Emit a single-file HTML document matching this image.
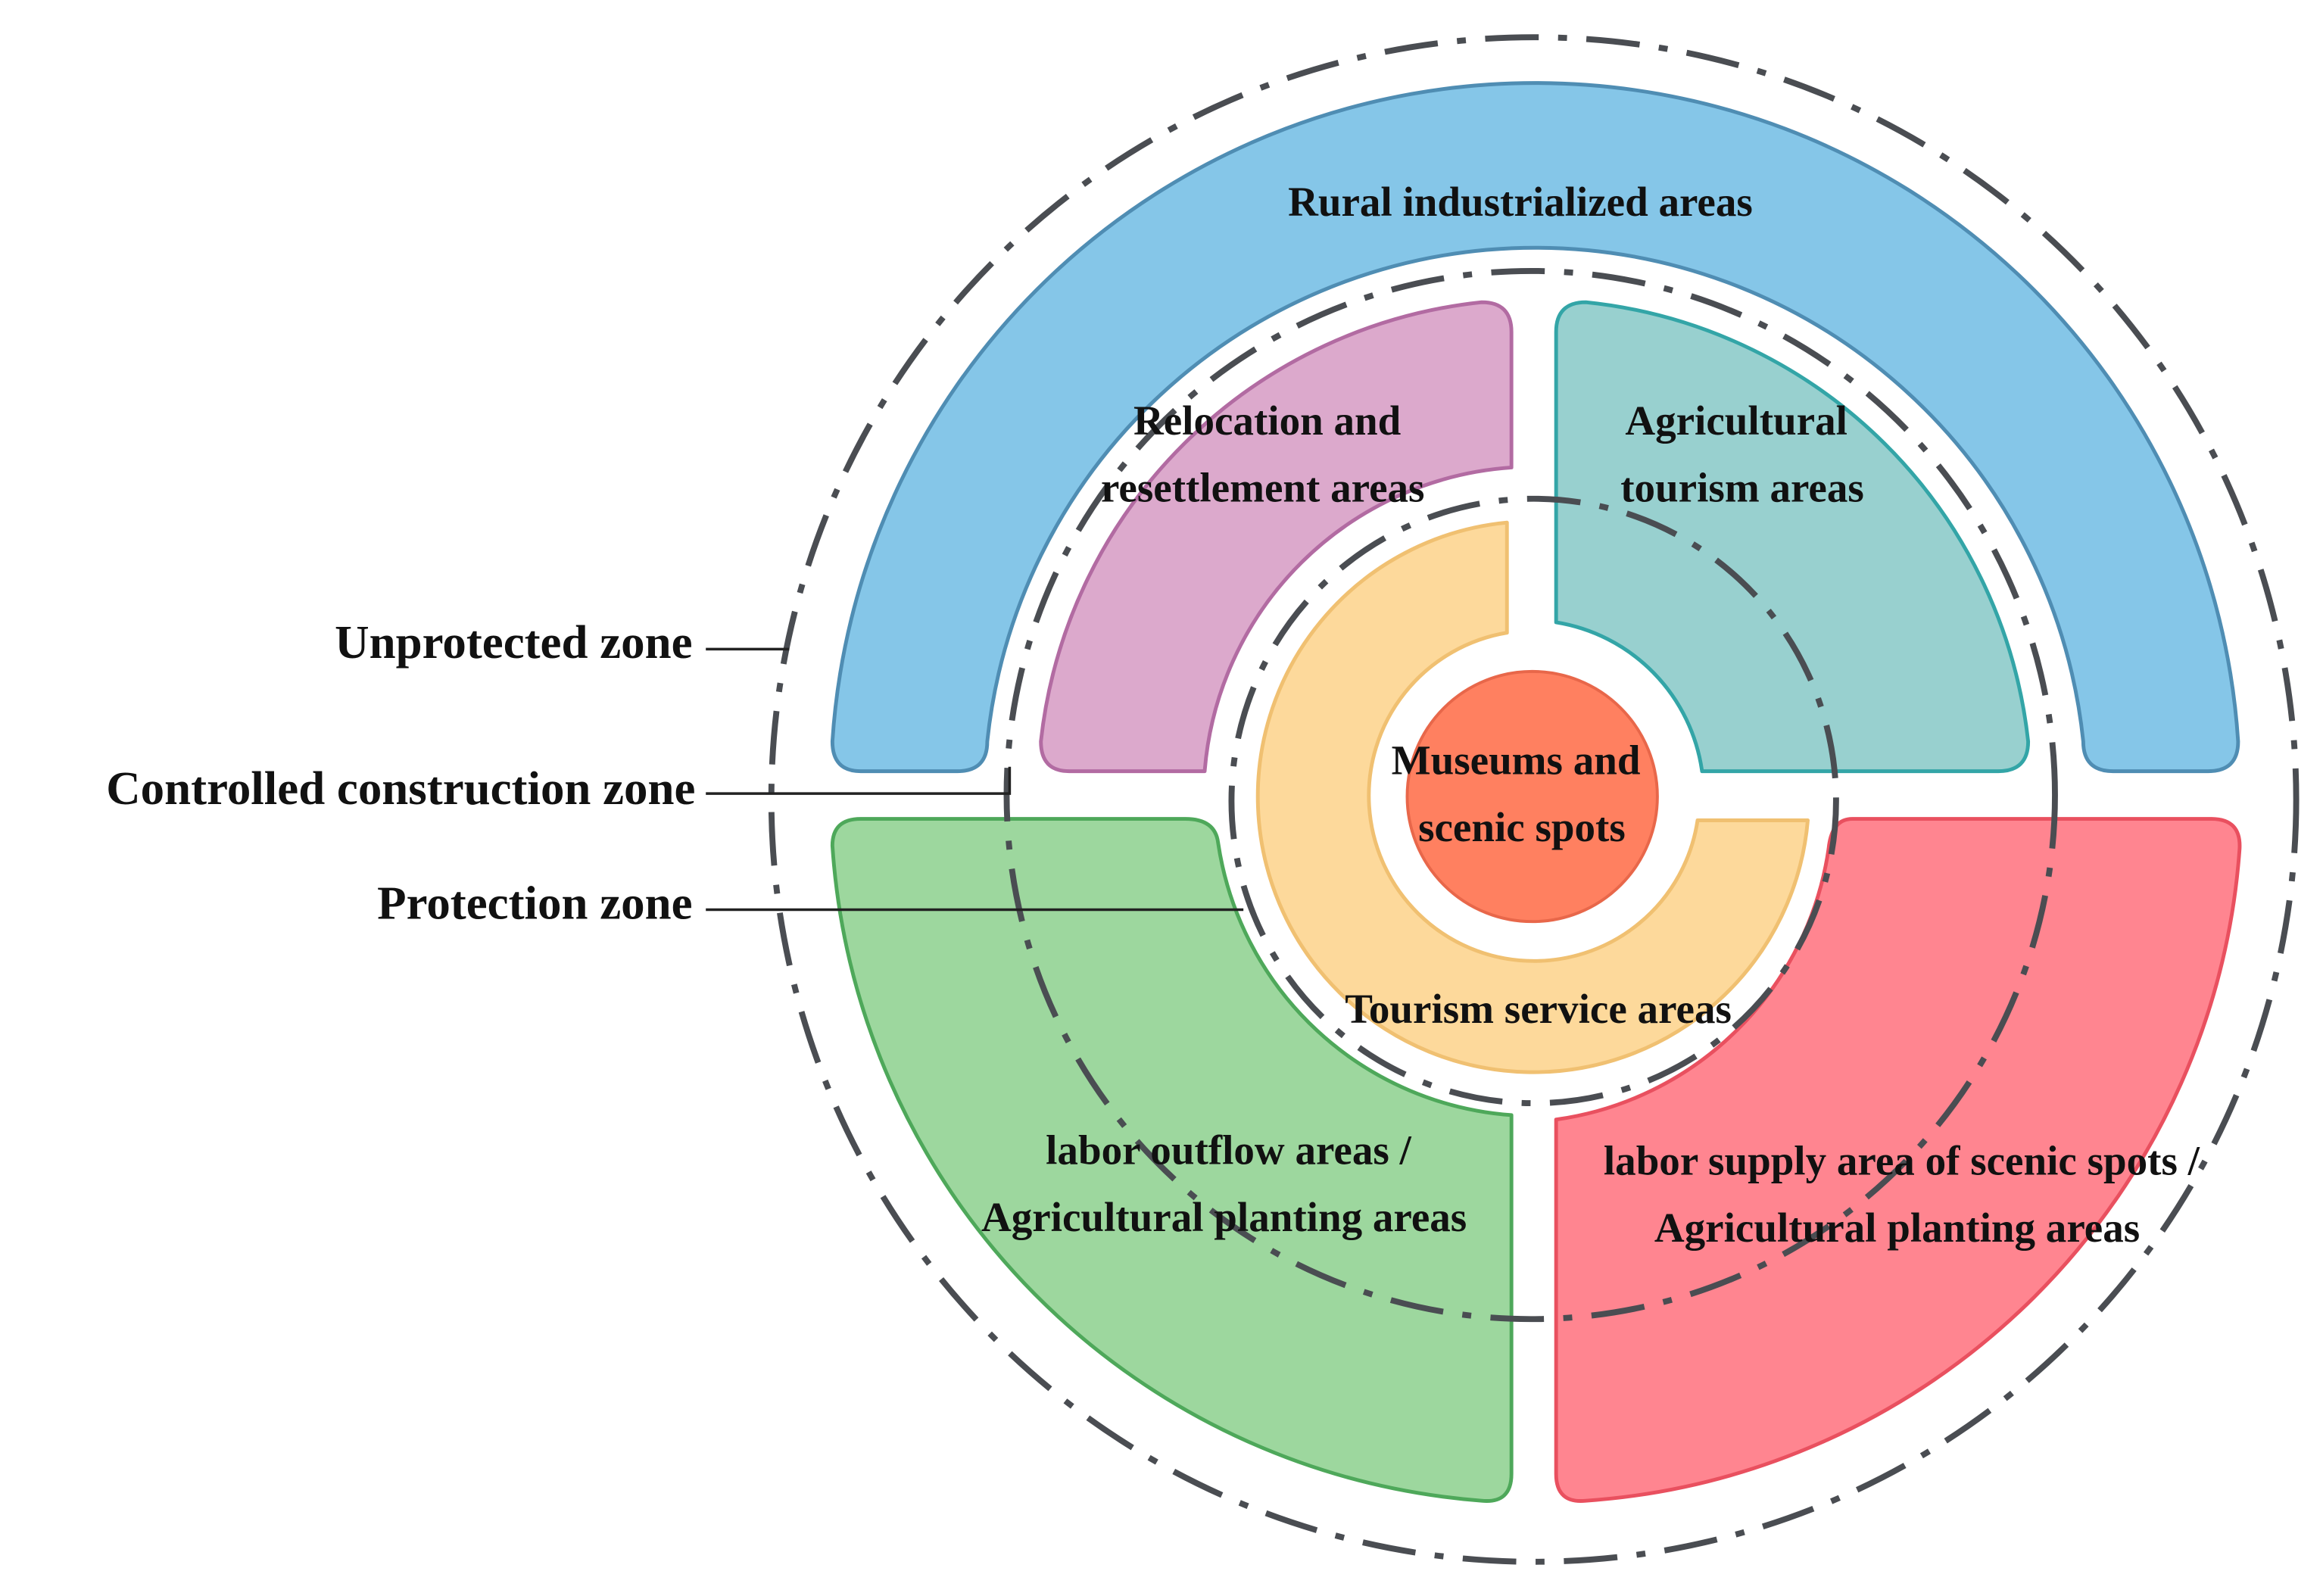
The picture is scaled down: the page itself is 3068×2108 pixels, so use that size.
<!DOCTYPE html>
<html><head><meta charset="utf-8"><style>
html,body{margin:0;padding:0;background:#fff;}
svg{display:block;}
text{font-family:"Liberation Serif",serif;font-weight:bold;fill:#111;}
</style></head><body>
<svg width="3068" height="2108" viewBox="0 0 1560 1072" preserveAspectRatio="none" xmlns="http://www.w3.org/2000/svg">
<!-- blue -->
<path d="M578,518 Q559,518 559,498 A473 473 0 0 1 1503,498 Q1503,518 1483,518 L1419,518 Q1399,518 1399,498 A370 370 0 0 0 663,498 Q663,518 643,518 Z" fill="#85C6E8" stroke="#4F8DB3" stroke-width="2.5" stroke-linejoin="round"/>
<!-- pink -->
<path d="M718,518 Q699,518 699,498 A333 333 0 0 1 995,203 Q1015,203 1015,223 L1015,314 A222 222 0 0 0 809,518 Z" fill="#DCA9CC" stroke="#B26BA2" stroke-width="2.5" stroke-linejoin="round"/>
<!-- teal -->
<path d="M1045,223 Q1045,203 1065,203 A333 333 0 0 1 1362,498 Q1362,518 1342,518 L1143,518 A118 118 0 0 0 1045,418 Z" fill="#98D0CF" stroke="#33A5A7" stroke-width="2.5" stroke-linejoin="round"/>
<!-- green -->
<path d="M578,550 L796,550 Q816,550 818,566 A215 215 0 0 0 1015,749 L1015,990 Q1015,1010 995,1008 A473 473 0 0 1 559,568 Q559,550 578,550 Z" fill="#9DD79E" stroke="#4EA85A" stroke-width="2.5" stroke-linejoin="round"/>
<!-- red -->
<path d="M1244,550 L1485,550 Q1505,550 1504,570 A473 473 0 0 1 1065,1008 Q1045,1010 1045,990 L1045,752 A215 215 0 0 0 1228,570 Q1230,550 1244,550 Z" fill="#FF8590" stroke="#E9505F" stroke-width="2.5" stroke-linejoin="round"/>
<!-- orange ring -->
<path d="M1012,351 A185 185 0 1 0 1214,551 L1140,551 A111 111 0 1 1 1012,425 Z" fill="#FDD99B" stroke="#F0C071" stroke-width="2.5" stroke-linejoin="round"/>
<!-- red circle -->
<circle cx="1029" cy="535" r="84" fill="#FF8060" stroke="#E8674A" stroke-width="2"/>
<!-- dashed circles -->
<g fill="none" stroke="#4A4D52" stroke-width="4" stroke-dasharray="36 13 6 13">
<circle cx="1030" cy="537" r="512"/>
<circle cx="1028" cy="534" r="352"/>
<circle cx="1030" cy="538" r="203"/>
</g>
<!-- leader lines -->
<g stroke="#222" stroke-width="1.8" fill="none">
<line x1="474" y1="436" x2="530" y2="436"/>
<polyline points="474,533 678,533 678,515"/>
<line x1="474" y1="611" x2="835" y2="611"/>
</g>
<!-- labels -->
<g font-size="28" text-anchor="middle">
<text x="1021" y="145">Rural industrialized areas</text>
<text x="851" y="292">Relocation and</text>
<text x="848" y="337">resettlement areas</text>
<text x="1166" y="292">Agricultural</text>
<text x="1170" y="337">tourism areas</text>
<text x="1018" y="520">Museums and</text>
<text x="1022" y="565">scenic spots</text>
<text x="1033" y="687">Tourism service areas</text>
<text x="825" y="782">labor outflow areas /</text>
<text x="822" y="827">Agricultural planting areas</text>
<text x="1277" y="789">labor supply area of scenic spots /</text>
<text x="1274" y="834">Agricultural planting areas</text>
</g>
<g font-size="32" text-anchor="end">
<text x="465" y="442">Unprotected zone</text>
<text x="467" y="540">Controlled construction zone</text>
<text x="465" y="617">Protection zone</text>
</g>
</svg>
</body></html>
